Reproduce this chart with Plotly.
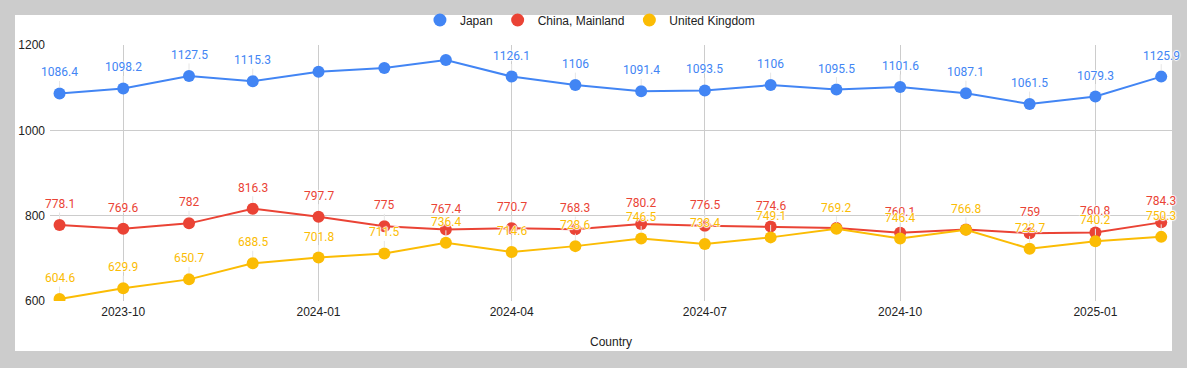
import plotly.graph_objects as go

months = ["2023-09-01", "2023-10-01", "2023-11-01", "2023-12-01", "2024-01-01", "2024-02-01",
          "2024-03-01", "2024-04-01", "2024-05-01", "2024-06-01", "2024-07-01", "2024-08-01",
          "2024-09-01", "2024-10-01", "2024-11-01", "2024-12-01", "2025-01-01", "2025-02-01"]
japan = [1086.4, 1098.2, 1127.5, 1115.3, 1137.4, 1146.0, 1165.0, 1126.1, 1106, 1091.4,
         1093.5, 1106, 1095.5, 1101.6, 1087.1, 1061.5, 1079.3, 1125.9]
china = [778.1, 769.6, 782, 816.3, 797.7, 775, 767.4, 770.7, 768.3, 780.2,
         776.5, 774.6, 771.0, 760.1, 767.8, 759, 760.8, 784.3]
uk = [604.6, 629.9, 650.7, 688.5, 701.8, 711.5, 736.4, 714.6, 728.6, 746.5,
      733.4, 749.1, 769.2, 746.4, 766.8, 722.7, 740.2, 750.3]
# which labels are visible in the original (hidden ones overlapped / overflowed)
japan_show = [1, 1, 1, 1, 0, 0, 0, 1, 1, 1, 1, 1, 1, 1, 1, 1, 1, 1]
china_show = [1, 1, 1, 1, 1, 1, 1, 1, 1, 1, 1, 1, 0, 1, 0, 1, 1, 1]
uk_show = [1] * 18

tick_vals = ["2023-10-01", "2024-01-01", "2024-04-01", "2024-07-01", "2024-10-01", "2025-01-01"]
tick_text = ["2023-10", "2024-01", "2024-04", "2024-07", "2024-10", "2025-01"]
y_ticks = [600, 800, 1000, 1200]

series = [
    ("Japan", japan, japan_show, "#4285F4"),
    ("China, Mainland", china, china_show, "#EA4335"),
    ("United Kingdom", uk, uk_show, "#FBBC04"),
]

halo = "1px 0 1px white, -1px 0 1px white, 0 1px 1px white, 0 -1px 1px white"

fig = go.Figure()
annotations = []
for name, vals, show, color in series:
    fig.add_trace(go.Scatter(
        x=months, y=vals, mode="lines+markers", name=name, showlegend=False,
        line=dict(color=color, width=2), marker=dict(color=color, size=12),
        cliponaxis=True, hoverinfo="x+y+name"))
    for xv, yv, s in zip(months, vals, show):
        if not s:
            continue
        annotations.append(dict(
            x=xv, y=yv, xref="x", yref="y", text=f"{yv:g}", showarrow=True,
            ax=0, ay=-21, arrowhead=0, arrowwidth=1, arrowcolor="#e6e6e6", standoff=6,
            font=dict(family="Roboto", size=12, color=color, shadow=halo)))

for name, vals, show, color in series:
    fig.add_trace(go.Scatter(
        x=[None], y=[None], mode="markers", name=name, showlegend=True,
        marker=dict(color=color, size=13)))

fig.update_layout(
    width=1187, height=368,
    margin=dict(l=50, r=15, t=45, b=67),
    paper_bgcolor="#cccccc", plot_bgcolor="white",
    font=dict(family="Liberation Sans, Arial", size=12, color="#222222"),
    annotations=annotations,
    shapes=[dict(type="rect", xref="paper", yref="paper",
                 x0=-0.0312, x1=1.0, y0=-0.1953, y1=1.1172,
                 fillcolor="white", line=dict(width=0), layer="below")],
    legend=dict(orientation="h", xref="container", yref="container",
                x=0.497, xanchor="center", y=1 - 20 / 368, yanchor="middle",
                bgcolor="rgba(0,0,0,0)", font=dict(size=12, color="#222222"),
                itemclick=False),
    xaxis=dict(type="date", range=["2023-08-27 12:00", "2025-02-06 02:00"],
               tickvals=tick_vals, ticktext=tick_text, showgrid=True,
               gridcolor="#cccccc", gridwidth=1, showline=False, zeroline=False,
               ticks="", tickfont=dict(size=12, color="#222222"), automargin=False,
               ticklabelstandoff=2,
               title=dict(text="Country", standoff=19, font=dict(size=12, color="#222222"))),
    yaxis=dict(range=[600, 1200], tickvals=y_ticks, showgrid=True, gridcolor="#cccccc",
               gridwidth=1, zeroline=False, showline=False, ticks="", automargin=False,
               ticklabelstandoff=4,
               tickfont=dict(size=12, color="#222222")),
)

fig.write_html("out.html", config={"displayModeBar": False},
               post_script="document.body.style.margin='0';document.body.style.overflow='hidden';")
